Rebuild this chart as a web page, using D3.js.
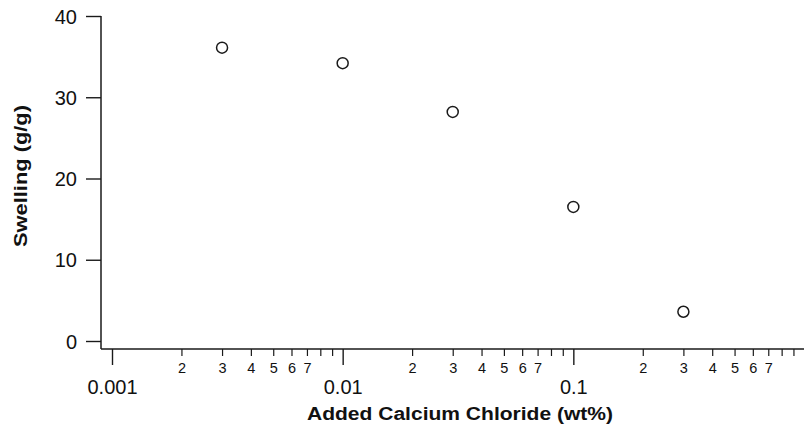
<!DOCTYPE html>
<html>
<head>
<meta charset="utf-8">
<script src="https://cdn.jsdelivr.net/npm/d3@7"></script>
<style>
  body { margin: 0; background: #fff; }
  svg text { font-family: "Liberation Sans", Arial, Helvetica, sans-serif; fill: #111; }
</style>
</head>
<body>
<div id="chart"></div>
<script>
// data
const chloride = [0.003, 0.01, 0.03, 0.1, 0.3];
const swelling = [36.1, 34.2, 28.2, 16.5, 3.6];
const yTicks = [0, 10, 20, 30, 40];
const xMajor = [0.001, 0.01, 0.1];
const xMajorLabels = ["0.001", "0.01", "0.1"];

const W = 804, H = 428;
const ink = "#1a1a1a";

const svg = d3.select("#chart").append("svg")
    .attr("width", W)
    .attr("height", H);

// scales
const x = d3.scaleLog().domain([0.001, 1]).range([112, 804]);
const y = d3.scaleLinear().domain([0, 40]).range([341, 16]);

const axisX = 101, axisY = 349;

// minor ticks 2..9 in each decade
const xMinor = [];
xMajor.forEach(d => {
    for (let m = 2; m <= 9; m++) xMinor.push(d * m);
});

// y axis
const gy = svg.append("g")
    .attr("transform", `translate(${axisX},0)`)
    .call(d3.axisLeft(y).tickValues(yTicks).tickSize(15).tickPadding(9).tickSizeOuter(0));
gy.select(".domain").remove();
gy.selectAll("line").attr("stroke", ink).attr("stroke-width", 1.4);
gy.selectAll("text").attr("font-size", 20).attr("dy", "0.36em");

// x axis, minor ticks
const gxMinor = svg.append("g")
    .attr("transform", `translate(0,${axisY})`)
    .call(d3.axisBottom(x).tickValues(xMinor).tickSize(7).tickPadding(7)
        .tickFormat(d => {
            const m = Math.round(d / Math.pow(10, Math.floor(Math.log10(d) + 1e-9)));
            return m <= 7 ? String(m) : "";
        }));
gxMinor.select(".domain").remove();
gxMinor.selectAll("line").attr("stroke", ink).attr("stroke-width", 1.2);
gxMinor.selectAll("text").attr("font-size", 14.5);

// x axis, major ticks
const gxMajor = svg.append("g")
    .attr("transform", `translate(0,${axisY})`)
    .call(d3.axisBottom(x).tickValues(xMajor).tickSize(16).tickPadding(15)
        .tickFormat((d, i) => xMajorLabels[i]));
gxMajor.select(".domain").remove();
gxMajor.selectAll("line").attr("stroke", ink).attr("stroke-width", 1.4);
gxMajor.selectAll("text").attr("font-size", 20);

// axis lines
svg.append("line")
    .attr("x1", axisX).attr("x2", axisX)
    .attr("y1", y(40)).attr("y2", axisY)
    .attr("stroke", ink).attr("stroke-width", 1.5);
svg.append("line")
    .attr("x1", axisX).attr("x2", W)
    .attr("y1", axisY).attr("y2", axisY)
    .attr("stroke", ink).attr("stroke-width", 1.5);

// axis titles
svg.append("text")
    .attr("x", 460)
    .attr("y", 420)
    .attr("text-anchor", "middle")
    .attr("font-size", 18)
    .attr("font-weight", "bold")
    .attr("textLength", 306)
    .attr("lengthAdjust", "spacingAndGlyphs")
    .text("Added Calcium Chloride (wt%)");

svg.append("text")
    .attr("transform", "translate(27,176) rotate(-90)")
    .attr("text-anchor", "middle")
    .attr("font-size", 18)
    .attr("font-weight", "bold")
    .attr("textLength", 142)
    .attr("lengthAdjust", "spacingAndGlyphs")
    .text("Swelling (g/g)");

// points
svg.append("g").selectAll("circle")
    .data(chloride.map((c, i) => ({ c, s: swelling[i] })))
    .join("circle")
    .attr("cx", d => x(d.c))
    .attr("cy", d => y(d.s))
    .attr("r", 5.5)
    .attr("fill", "none")
    .attr("stroke", ink)
    .attr("stroke-width", 1.5);
</script>
</body>
</html>
